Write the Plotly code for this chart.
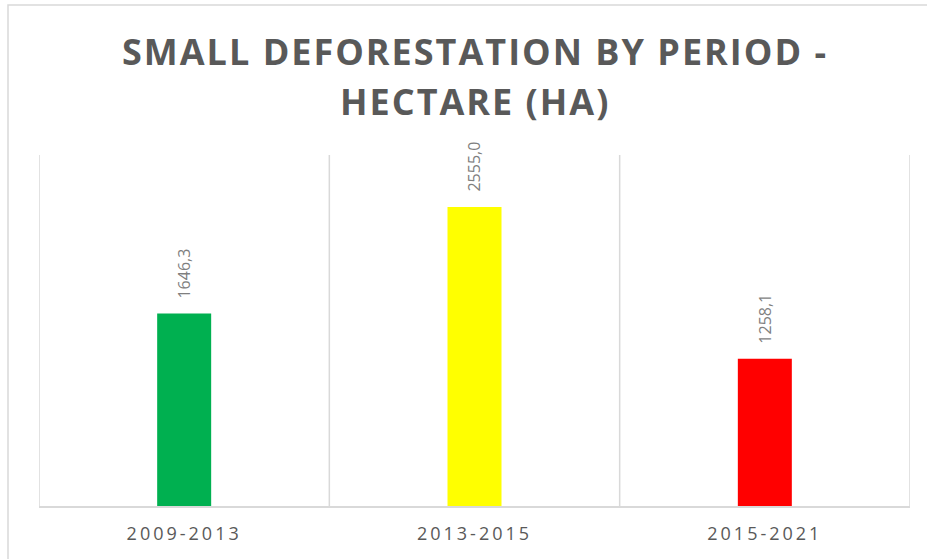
import plotly.graph_objects as go

categories = ["2009-2013", "2013-2015", "2015-2021"]
values = [1646.3, 2555.0, 1258.1]
colors = ["#00B050", "#FFFF00", "#FF0000"]
title_lines = ["SMALL DEFORESTATION BY PERIOD -", "HECTARE (HA)"]

labels = [f"{v:.1f}".replace(".", ",") for v in values]

W, H = 927, 559
L, R, T, B = 39, 17, 155, 53

fig = go.Figure()
fig.add_trace(go.Bar(
    x=[0, 1, 2], y=values,
    marker=dict(color=colors, line=dict(width=0)),
    width=0.186,
    hoverinfo="skip",
))

for i, (v, lab) in enumerate(zip(values, labels)):
    fig.add_annotation(
        x=i, y=v, text=lab,
        textangle=-90, showarrow=False, xanchor="center", yanchor="bottom",
        yshift=13, font=dict(family="Open Sans", size=16, color="#7F7F7F"),
    )

pw, ph = W - L - R, H - T - B
# title lines, centered at given pixel y from top
for line, ypx in zip(title_lines, [51, 101]):
    fig.add_annotation(
        xref="paper", yref="paper", x=0.5, y=(H - B - ypx) / ph,
        text=f'<span style="letter-spacing:2px"><b>{line}</b></span>',
        showarrow=False, xanchor="center", yanchor="middle",
        font=dict(family="Open Sans", size=36, color="#595959"),
    )

fig.update_xaxes(
    range=[-0.5, 2.5], tickmode="array", tickvals=[0, 1, 2],
    ticktext=[f'<span style="letter-spacing:3px">{c}</span>' for c in categories],
    showgrid=False, showline=True, linecolor="#D9D9D9", linewidth=1.5,
    ticks="", tickfont=dict(family="Open Sans", size=18, color="#595959"),
    ticklabelstandoff=11, zeroline=False,
)
fig.update_yaxes(range=[0, 3000], showgrid=False, showticklabels=False,
                 zeroline=False, showline=False)

for xv in [-0.5, 0.5, 1.5, 2.5]:
    fig.add_shape(type="line", xref="x", yref="paper", x0=xv, x1=xv, y0=0, y1=1,
                  line=dict(color="#D9D9D9", width=1.5), layer="below")

# outer chart border
fig.add_shape(type="rect", xref="paper", yref="paper",
              x0=(8 - L) / pw, x1=(940 - L) / pw,
              y0=-0.5, y1=(H - B - 5) / ph,
              line=dict(color="#D9D9D9", width=1.5))

fig.update_layout(
    width=W, height=H, margin=dict(l=L, r=R, t=T, b=B),
    paper_bgcolor="white", plot_bgcolor="white", showlegend=False,
)
fig.write_html("out.html", config={"displayModeBar": False},
               post_script="document.body.style.margin='0';document.body.style.overflow='hidden';")
